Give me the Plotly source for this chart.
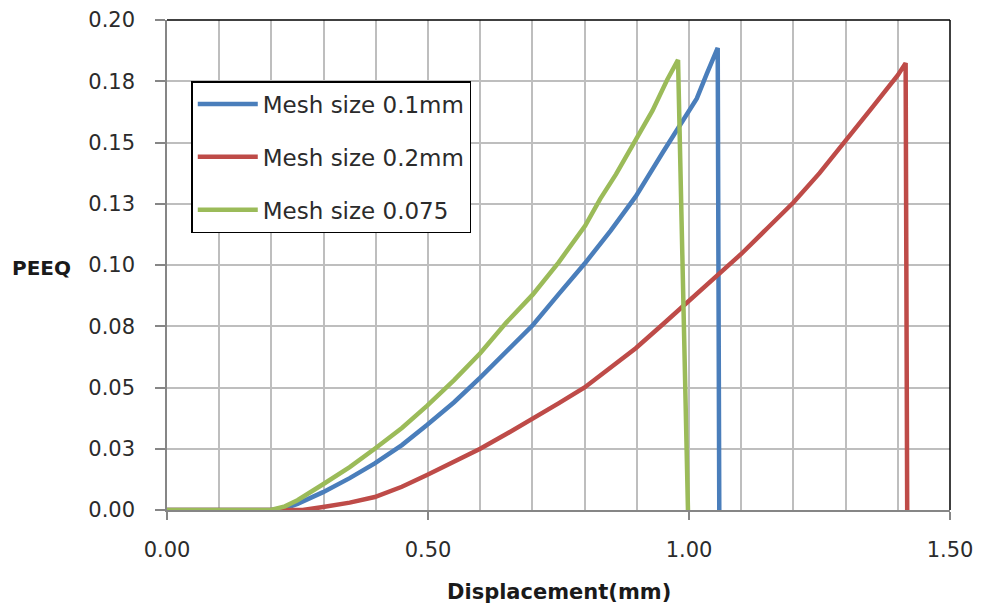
import plotly.graph_objects as go

# Displacement (mm) and PEEQ for each mesh size
disp_01 = [0.0, 0.20, 0.23, 0.25, 0.299, 0.35, 0.398, 0.45, 0.498, 0.55, 0.600, 0.65, 0.701,
           0.75, 0.801, 0.85, 0.898, 0.95, 1.002, 1.015, 1.034, 1.055, 1.058]
peeq_01 = [0.0, 0.0, 0.001, 0.0025, 0.0073, 0.013, 0.019, 0.0265, 0.0347, 0.044, 0.054, 0.0645,
           0.0755, 0.088, 0.1008, 0.114, 0.128, 0.146, 0.163, 0.168, 0.178, 0.1886, 0.0]

disp_02 = [0.0, 0.26, 0.299, 0.35, 0.398, 0.45, 0.498, 0.55, 0.600, 0.65, 0.700, 0.75, 0.800,
           0.85, 0.898, 0.95, 1.000, 1.05, 1.100, 1.15, 1.200, 1.25, 1.300, 1.35, 1.400, 1.415,
           1.418]
peeq_02 = [0.0, 0.0, 0.0012, 0.003, 0.0053, 0.0095, 0.0143, 0.0195, 0.025, 0.031, 0.037, 0.0435,
           0.050, 0.058, 0.066, 0.0758, 0.0855, 0.095, 0.1045, 0.115, 0.1255, 0.1375, 0.1505,
           0.164, 0.1775, 0.1824, 0.0]

disp_0075 = [0.0, 0.199, 0.226, 0.25, 0.299, 0.35, 0.398, 0.45, 0.498, 0.55, 0.600, 0.65, 0.701,
             0.75, 0.801, 0.83, 0.86, 0.895, 0.93, 0.958, 0.979, 0.998]
peeq_0075 = [0.0, 0.0, 0.0015, 0.004, 0.0105, 0.0175, 0.025, 0.0335, 0.0425, 0.053, 0.064, 0.0765,
             0.088, 0.101, 0.116, 0.127, 0.137, 0.150, 0.163, 0.1755, 0.1837, 0.0]

series_names = ["Mesh size 0.1mm", "Mesh size 0.2mm", "Mesh size 0.075"]
series_colors = ["#4A7EBB", "#BE4B48", "#9BBB59"]

y_tickvals = [0.0, 0.025, 0.05, 0.075, 0.1, 0.125, 0.15, 0.175, 0.2]
y_ticktext = ["0.00", "0.03", "0.05", "0.08", "0.10", "0.13", "0.15", "0.18", "0.20"]
x_tickvals = [0.0, 0.5, 1.0, 1.5]
x_ticktext = ["0.00", "0.50", "1.00", "1.50"]

FONT = "'DejaVu Sans', sans-serif"
GRID = "#BEBEBE"
AXIS = "#868686"
TEXT = "#2b2b2b"

fig = go.Figure()
for i, (xs, ys) in enumerate([(disp_01, peeq_01), (disp_02, peeq_02), (disp_0075, peeq_0075)]):
    fig.add_trace(go.Scatter(
        x=xs, y=ys, mode="lines", name=series_names[i],
        legendgroup=str(i),
        line=dict(color=series_colors[i], width=4.5),
    ))

fig.update_layout(
    width=983, height=610,
    margin=dict(l=167, r=33, t=20, b=100),
    paper_bgcolor="white", plot_bgcolor="white",
    font=dict(family=FONT, size=21, color=TEXT),
    showlegend=True,
    legend=dict(
        x=0.0310, y=0.8755, xanchor="left", yanchor="top",
        bgcolor="white", bordercolor="black", borderwidth=1.5,
        font=dict(family=FONT, size=23, color=TEXT),
        tracegroupgap=20, itemwidth=60,
    ),
    xaxis=dict(
        range=[0, 1.5], tickvals=x_tickvals, ticktext=x_ticktext,
        ticks="outside", ticklen=8, tickcolor=AXIS, tickwidth=1.5,
        showline=True, linecolor=AXIS, linewidth=1.5,
        showgrid=True, gridcolor=GRID, gridwidth=1.5,
        minor=dict(dtick=0.1, showgrid=True, gridcolor=GRID, gridwidth=1.5),
        zeroline=False, ticklabelstandoff=12, automargin=False,
        tickfont=dict(family=FONT, size=21, color=TEXT),
    ),
    yaxis=dict(
        range=[0, 0.2], tickvals=y_tickvals, ticktext=y_ticktext,
        ticks="outside", ticklen=10, tickcolor=AXIS, tickwidth=1.5,
        showline=True, linecolor=AXIS, linewidth=1.5,
        showgrid=True, gridcolor=GRID, gridwidth=1.5,
        zeroline=False, ticklabelstandoff=16, automargin=False,
        tickfont=dict(family=FONT, size=21, color=TEXT),
    ),
    annotations=[
        dict(text="<b>PEEQ</b>", x=-0.16, y=0.494, xref="paper", yref="paper",
             xanchor="center", yanchor="middle", showarrow=False,
             font=dict(family=FONT, size=20, color="#1a1a1a")),
        dict(text="<b>Displacement(mm)</b>", x=0.5, y=-0.167, xref="paper", yref="paper",
             xanchor="center", yanchor="middle", showarrow=False,
             font=dict(family=FONT, size=21, color="#1a1a1a")),
    ],
    shapes=[
        # top and right edges of the plot area frame
        dict(type="line", xref="paper", yref="paper", x0=0, x1=1, y0=1, y1=1,
             line=dict(color="black", width=1.5)),
        dict(type="line", xref="paper", yref="paper", x0=1, x1=1, y0=0, y1=1,
             line=dict(color="black", width=1.5)),
    ],
)

fig.write_html("out.html")
